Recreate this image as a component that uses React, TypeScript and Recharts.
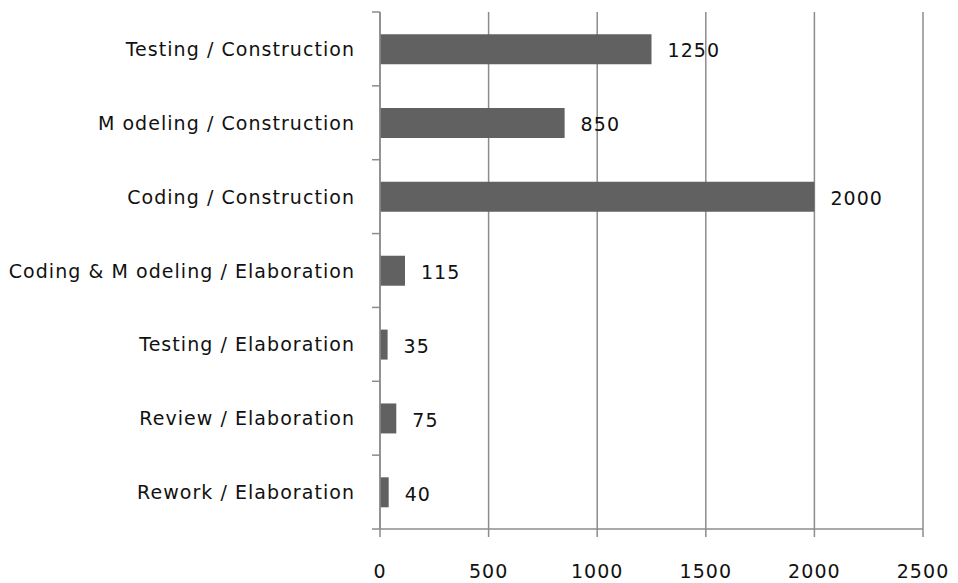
import React from "react";
import { BarChart, Bar, XAxis, YAxis, CartesianGrid, LabelList } from "recharts";

const categories = [
  "Testing / Construction",
  "M odeling / Construction",
  "Coding / Construction",
  "Coding & M odeling / Elaboration",
  "Testing / Elaboration",
  "Review / Elaboration",
  "Rework / Elaboration",
];
const values = [1250, 850, 2000, 115, 35, 75, 40];
const xTicks = [0, 500, 1000, 1500, 2000, 2500];

const data = categories.map((name, i) => ({ name, value: values[i] }));

const W = 958;
const H = 583;
const TOP = 12;
const XAXIS_H = 54;
const FONT = "'DejaVu Sans', sans-serif";
const FS = 19;
const LS = 1.05;
const GRID = "#8c8c8c";

const YTick = (props: any) => {
  const { x, y, payload, index } = props;
  const band = (H - TOP - XAXIS_H) / categories.length;
  return (
    <g>
      <line x1={380 - 8} x2={380} y1={y - band / 2} y2={y - band / 2} stroke={GRID} strokeWidth={1.5} />
      {index === categories.length - 1 && (
        <line x1={380 - 8} x2={380} y1={y + band / 2} y2={y + band / 2} stroke={GRID} strokeWidth={1.5} />
      )}
      <text
        x={x - 17}
        y={y}
        textAnchor="end"
        dominantBaseline="central"
        fontFamily={FONT}
        fontSize={FS}
        letterSpacing={LS}
        fill="#111"
      >
        {payload.value}
      </text>
    </g>
  );
};

export default function App() {
  return (
    <div style={{ position: "absolute", left: 0, top: 0, width: W, height: H, background: "#fff" }}>
      <BarChart
        width={W}
        height={H}
        data={data}
        layout="vertical"
        margin={{ top: TOP, right: 35, bottom: 0, left: 0 }}
        barCategoryGap="30%"
      >
        <CartesianGrid horizontal={false} vertical stroke={GRID} strokeWidth={1.5} />
        <XAxis
          type="number"
          domain={[0, 2500]}
          ticks={xTicks}
          height={XAXIS_H}
          tickSize={8}
          tickMargin={28}
          axisLine={{ stroke: GRID, strokeWidth: 1.5 }}
          tickLine={{ stroke: GRID, strokeWidth: 1.5 }}
          tick={{ fontFamily: FONT, fontSize: FS, fill: "#111", letterSpacing: LS }}
          interval={0}
        />
        <YAxis
          type="category"
          dataKey="name"
          width={380}
          axisLine={{ stroke: GRID, strokeWidth: 1.5 }}
          tickLine={false}
          tick={<YTick />}
          interval={0}
        />
        <Bar dataKey="value" fill="#616161" isAnimationActive={false}>
          <LabelList
            dataKey="value"
            position="right"
            offset={16}
            style={{ fontFamily: FONT, fontSize: FS, fill: "#111", letterSpacing: LS }}
            dy={1.5}
          />
        </Bar>
      </BarChart>
    </div>
  );
}
